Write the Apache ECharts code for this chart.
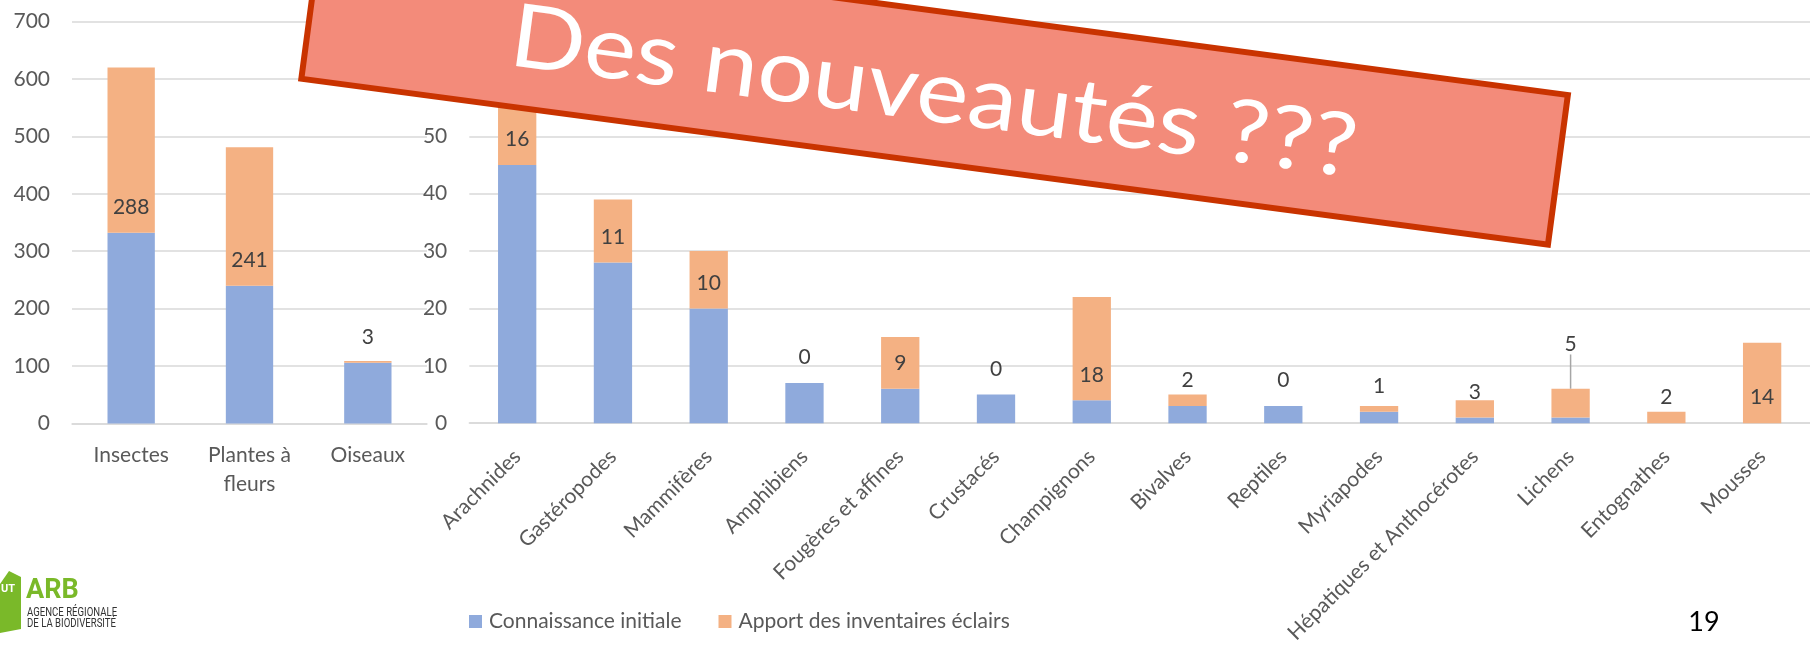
<!DOCTYPE html>
<html>
<head>
<meta charset="utf-8">
<script src="https://cdn.jsdelivr.net/npm/echarts@6/dist/echarts.min.js"></script>
<style>
  html, body { margin: 0; padding: 0; background: #fff; }
  #chart { width: 1810px; height: 646px; }
</style>
</head>
<body>
<div id="chart"></div>
<script>
// gros groupes (axe 0-700)
const catsMain = ['Insectes', 'Plantes à\nfleurs', 'Oiseaux'];
const initMain = [332, 240, 106];
const apportMain = [288, 241, 3];

// autres groupes (axe 0-70)
const catsOther = ['Arachnides', 'Gastéropodes', 'Mammifères', 'Amphibiens', 'Fougères et affines',
  'Crustacés', 'Champignons', 'Bivalves', 'Reptiles', 'Myriapodes',
  'Hépatiques et Anthocérotes', 'Lichens', 'Entognathes', 'Mousses'];
const initOther = [45, 28, 20, 7, 6, 5, 4, 3, 3, 2, 1, 1, 0, 0];
const apportOther = [16, 11, 10, 0, 9, 0, 18, 2, 0, 1, 3, 5, 2, 14];

const legendNames = ['Connaissance initiale', 'Apport des inventaires éclairs'];

const FONT = 'Lato, "Open Sans", sans-serif';
const BLUE = '#8FAADC';
const ORANGE = '#F4B183';
const GRID_COLOR = '#D9D9D9';
const AXIS_TXT = '#595959';
const MOVED_LABEL = 11; // Lichens : étiquette remontée avec trait de rappel

const chart = echarts.init(document.getElementById('chart'));

const labelStyle = {
  show: true,
  position: 'insideBottom',
  distance: 15,
  color: '#404040',
  fontSize: 21,
  fontFamily: FONT
};

function yAxisCfg(gridIndex, max, interval) {
  return {
    type: 'value',
    gridIndex: gridIndex,
    min: 0,
    max: max,
    interval: interval,
    axisLine: { show: false },
    axisTick: { show: false },
    axisLabel: { color: AXIS_TXT, fontSize: 21, fontFamily: FONT, margin: 22 },
    splitLine: { lineStyle: { color: GRID_COLOR, width: 1.5 } }
  };
}

const apportOtherData = apportOther.map(function (v, i) {
  if (i === MOVED_LABEL) {
    return { value: v, labelLine: { show: true, lineStyle: { color: '#A6A6A6', width: 1.5 } } };
  }
  return v;
});

const option = {
  animation: false,
  backgroundColor: '#ffffff',
  grid: [
    { left: 72, top: 21.5, width: 355, height: 402 },
    { left: 469.3, top: 21.5, width: 1350, height: 402 }
  ],
  legend: {
    data: legendNames,
    left: 469,
    top: 611,
    padding: 0,
    icon: 'rect',
    itemWidth: 13,
    itemHeight: 13,
    itemGap: 37,
    textStyle: { color: AXIS_TXT, fontSize: 21, fontFamily: FONT, padding: [0, 0, 0, 2] }
  },
  xAxis: [
    {
      type: 'category',
      gridIndex: 0,
      data: catsMain,
      axisLine: { show: true, lineStyle: { color: GRID_COLOR, width: 1.5 } },
      axisTick: { show: false },
      axisLabel: { color: AXIS_TXT, fontSize: 21, fontFamily: FONT, margin: 17, lineHeight: 29 }
    },
    {
      type: 'category',
      gridIndex: 1,
      data: catsOther,
      axisLine: { show: true, lineStyle: { color: GRID_COLOR, width: 1.5 } },
      axisTick: { show: false },
      axisLabel: { color: AXIS_TXT, fontSize: 21, fontFamily: FONT, margin: 30, rotate: 45, interval: 0 }
    }
  ],
  yAxis: [yAxisCfg(0, 700, 100), yAxisCfg(1, 70, 10)],
  series: [
    {
      name: legendNames[0], type: 'bar', stack: 'main', xAxisIndex: 0, yAxisIndex: 0,
      barWidth: '40%', itemStyle: { color: BLUE }, data: initMain
    },
    {
      name: legendNames[1], type: 'bar', stack: 'main', xAxisIndex: 0, yAxisIndex: 0,
      barWidth: '40%', itemStyle: { color: ORANGE }, label: labelStyle, data: apportMain
    },
    {
      name: legendNames[0], type: 'bar', stack: 'other', xAxisIndex: 1, yAxisIndex: 1,
      barWidth: '40%', itemStyle: { color: BLUE }, data: initOther
    },
    {
      name: legendNames[1], type: 'bar', stack: 'other', xAxisIndex: 1, yAxisIndex: 1,
      barWidth: '40%', itemStyle: { color: ORANGE }, label: labelStyle,
      labelLine: { show: false },
      labelLayout: function (params) {
        if (params.dataIndex === MOVED_LABEL) {
          return { dy: -48 };
        }
      },
      data: apportOtherData
    }
  ],
  graphic: [
    // bandeau "Des nouveautés ???"
    {
      type: 'group',
      x: 934.6,
      y: 86.9,
      rotation: -7.58 * Math.PI / 180,
      z: 100,
      children: [
        {
          type: 'rect',
          shape: { x: -628.8, y: -75.5, width: 1257.6, height: 151 },
          style: { fill: '#F38B7A', stroke: '#C93300', lineWidth: 6 },
          z: 100
        },
        {
          type: 'text',
          x: 0,
          y: 6,
          scaleX: 1.12,
          style: {
            text: 'Des nouveautés ???',
            fill: '#ffffff',
            font: '88px Lato, "Open Sans", sans-serif',
            align: 'center',
            verticalAlign: 'middle'
          },
          z: 101
        }
      ]
    },
    // logo ARB
    {
      type: 'polygon',
      shape: { points: [[0, 584], [9, 571], [21, 577], [21, 629], [0, 633]] },
      style: { fill: '#7AB929' },
      z: 50
    },
    {
      type: 'text', x: 1, y: 584, z: 51,
      style: { text: 'UT', fill: '#ffffff', font: 'bold 11px Roboto, sans-serif' }
    },
    {
      type: 'text', x: 26, y: 578, z: 51,
      style: { text: 'ARB', fill: '#7AB929', font: 'bold 27px Roboto, sans-serif' }
    },
    {
      type: 'text', x: 27, y: 607, z: 51, scaleX: 0.8,
      style: { text: 'AGENCE RÉGIONALE', fill: '#333333', font: '12px Roboto, sans-serif' }
    },
    {
      type: 'text', x: 27, y: 618, z: 51, scaleX: 0.8,
      style: { text: 'DE LA BIODIVERSITÉ', fill: '#333333', font: '12px Roboto, sans-serif' }
    },
    // numéro de page
    {
      type: 'text', x: 1704, y: 622, z: 51,
      style: { text: '19', fill: '#000000', font: '27px Lato, sans-serif', align: 'center', verticalAlign: 'middle' }
    }
  ]
};

chart.setOption(option);
</script>
</body>
</html>
